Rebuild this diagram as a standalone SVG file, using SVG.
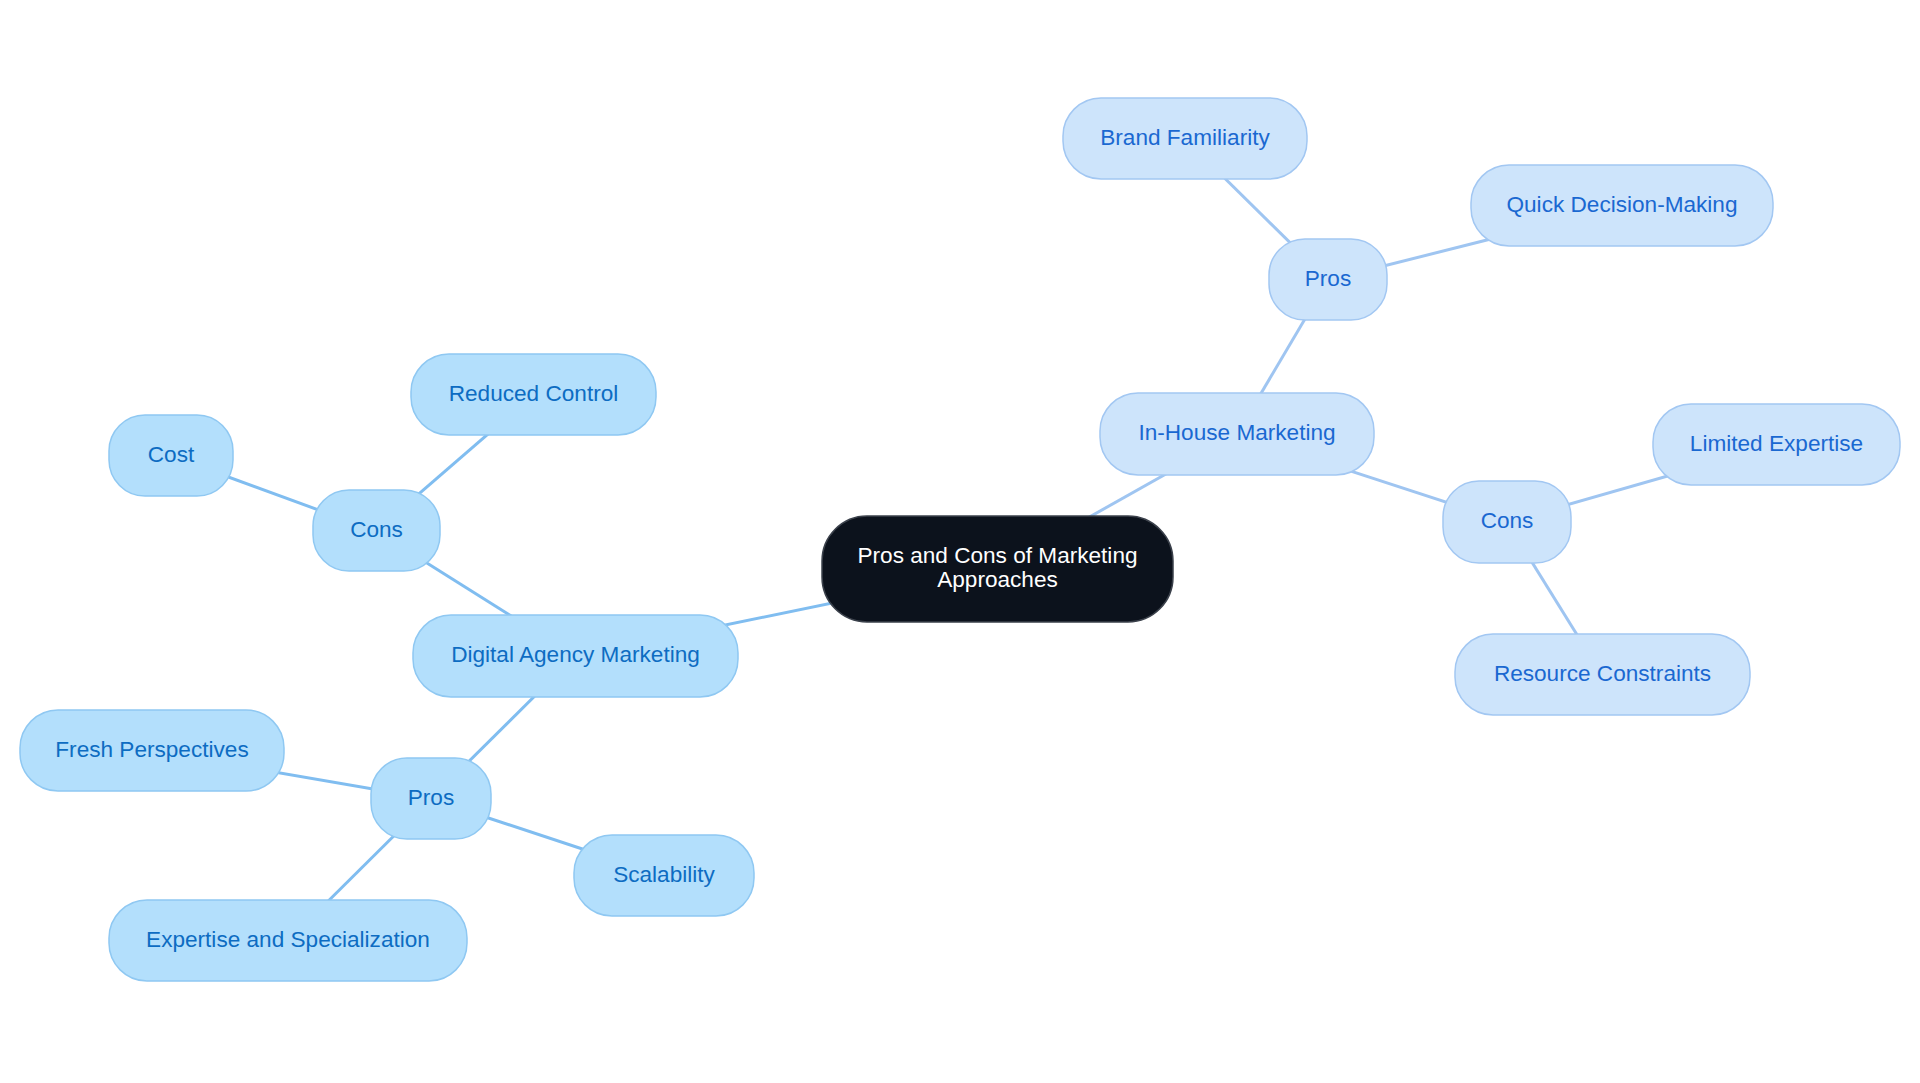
<svg xmlns="http://www.w3.org/2000/svg" width="1920" height="1083" viewBox="0 0 1920 1083">
<style>
text{font-family:"Liberation Sans",Arial,sans-serif;font-size:22.6px;text-anchor:middle}
.l rect{fill:#b3dffc;stroke:#8fc8f2;stroke-width:1.5}
.l text{fill:#0d6cc2}
.r rect{fill:#cde4fb;stroke:#a2c7f2;stroke-width:1.5}
.r text{fill:#1a68d1}
.el{stroke:#80bdf0;stroke-width:3;fill:none}
.er{stroke:#9fc5f1;stroke-width:3;fill:none}
</style>
<rect width="1920" height="1083" fill="#ffffff"/>
<g id="connectors">
<line class="er" x1="997" y1="569" x2="1237" y2="434"/>
<line class="er" x1="1237" y1="434" x2="1328" y2="280"/>
<line class="er" x1="1328" y1="280" x2="1185" y2="139"/>
<line class="er" x1="1328" y1="280" x2="1622" y2="206"/>
<line class="er" x1="1237" y1="434" x2="1507" y2="522"/>
<line class="er" x1="1507" y1="522" x2="1776" y2="445"/>
<line class="er" x1="1507" y1="522" x2="1602" y2="675"/>
<line class="el" x1="997" y1="569" x2="575" y2="656"/>
<line class="el" x1="575" y1="656" x2="376" y2="531"/>
<line class="el" x1="376" y1="531" x2="533" y2="395"/>
<line class="el" x1="376" y1="531" x2="171" y2="456"/>
<line class="el" x1="575" y1="656" x2="431" y2="799"/>
<line class="el" x1="431" y1="799" x2="152" y2="751"/>
<line class="el" x1="431" y1="799" x2="664" y2="876"/>
<line class="el" x1="431" y1="799" x2="288" y2="941"/>
</g>
<g id="center">
<rect x="822" y="516" width="351" height="106" rx="45" fill="#0c121c" stroke="#3b414b" stroke-width="1.5"/>
<text x="997.5" y="562.5" fill="#ffffff">Pros and Cons of Marketing</text>
<text x="997.5" y="586.5" fill="#ffffff">Approaches</text>
</g>
<g id="inhouse" class="r">
<rect x="1100" y="393" width="274" height="82" rx="38"/>
<text x="1237" y="440">In-House Marketing</text>
</g>
<g id="pros-r" class="r">
<rect x="1269" y="239" width="118" height="81" rx="36"/>
<text x="1328" y="286">Pros</text>
</g>
<g id="brand" class="r">
<rect x="1063" y="98" width="244" height="81" rx="38"/>
<text x="1185" y="145">Brand Familiarity</text>
</g>
<g id="quick" class="r">
<rect x="1471" y="165" width="302" height="81" rx="38"/>
<text x="1622" y="212">Quick Decision-Making</text>
</g>
<g id="cons-r" class="r">
<rect x="1443" y="481" width="128" height="82" rx="36"/>
<text x="1507" y="528">Cons</text>
</g>
<g id="limited" class="r">
<rect x="1653" y="404" width="247" height="81" rx="38"/>
<text x="1776.5" y="451">Limited Expertise</text>
</g>
<g id="resource" class="r">
<rect x="1455" y="634" width="295" height="81" rx="38"/>
<text x="1602.5" y="681">Resource Constraints</text>
</g>
<g id="digital" class="l">
<rect x="413" y="615" width="325" height="82" rx="38"/>
<text x="575.5" y="662">Digital Agency Marketing</text>
</g>
<g id="cons-l" class="l">
<rect x="313" y="490" width="127" height="81" rx="36"/>
<text x="376.5" y="537">Cons</text>
</g>
<g id="reduced" class="l">
<rect x="411" y="354" width="245" height="81" rx="38"/>
<text x="533.5" y="401">Reduced Control</text>
</g>
<g id="cost" class="l">
<rect x="109" y="415" width="124" height="81" rx="36"/>
<text x="171" y="462">Cost</text>
</g>
<g id="pros-l" class="l">
<rect x="371" y="758" width="120" height="81" rx="36"/>
<text x="431" y="805">Pros</text>
</g>
<g id="fresh" class="l">
<rect x="20" y="710" width="264" height="81" rx="38"/>
<text x="152" y="757">Fresh Perspectives</text>
</g>
<g id="scalability" class="l">
<rect x="574" y="835" width="180" height="81" rx="38"/>
<text x="664" y="882">Scalability</text>
</g>
<g id="expertise" class="l">
<rect x="109" y="900" width="358" height="81" rx="38"/>
<text x="288" y="947">Expertise and Specialization</text>
</g>
</svg>
